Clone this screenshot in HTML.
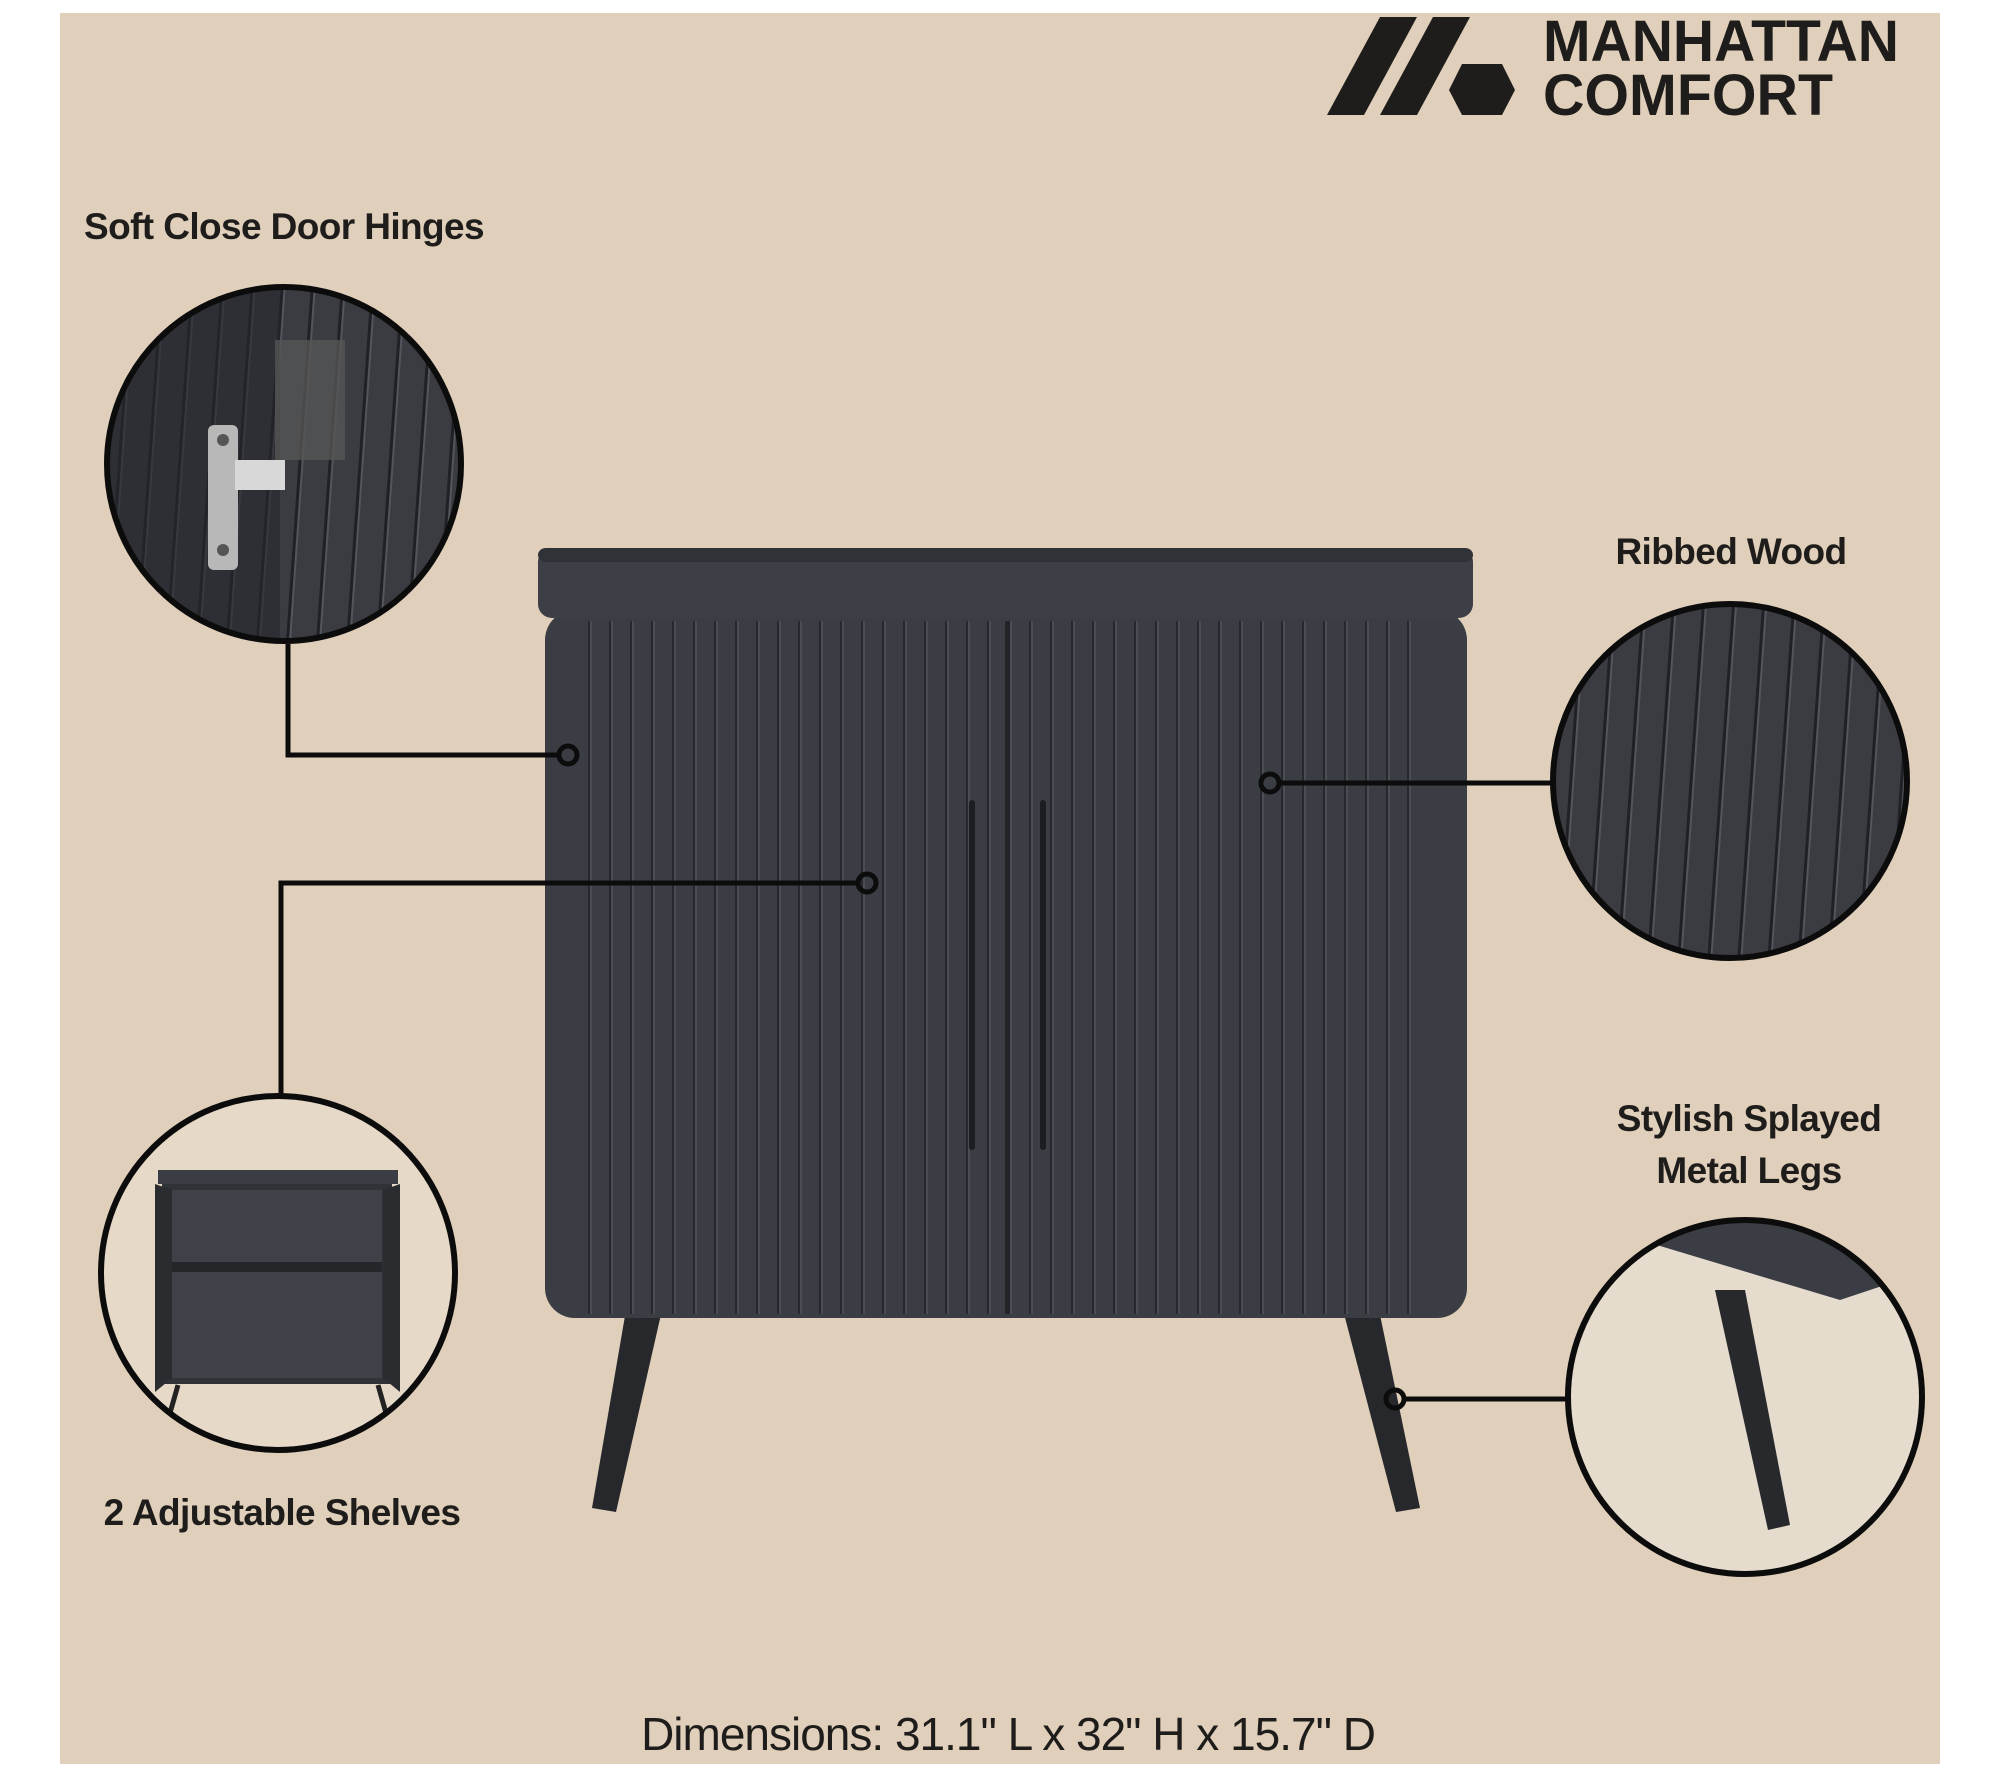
<!DOCTYPE html>
<html><head><meta charset="utf-8"><style>
html,body{margin:0;padding:0;background:#fff}
#p{position:relative;width:2000px;height:1777px;overflow:hidden;background:#fff;font-family:"Liberation Sans",sans-serif}
.t{position:absolute;font-weight:bold;color:#1f1d1b;white-space:nowrap;transform:translateX(-50%);font-size:37px;letter-spacing:-0.6px}
</style></head><body><div id="p">
<div style="position:absolute;left:60px;top:13px;width:1880px;height:1751px;background:#e0cfba"></div>
<svg width="2000" height="1777" style="position:absolute;left:0;top:0">
<defs>
<pattern id="rib" width="21" height="10" patternUnits="userSpaceOnUse">
<rect width="21" height="10" fill="#3a3d43"/><rect x="0" width="2" height="10" fill="#26282c"/><rect x="2" width="2" height="10" fill="#4a4d54"/>
</pattern>
<pattern id="rib2" width="30" height="10" patternUnits="userSpaceOnUse" patternTransform="rotate(4)">
<rect width="30" height="10" fill="#3a3c42"/><rect x="0" width="3" height="10" fill="#1f2125"/><rect x="3" width="2" height="10" fill="#52555c"/>
</pattern>
<clipPath id="c1"><circle cx="284" cy="464" r="177"/></clipPath>
<clipPath id="c2"><circle cx="278" cy="1273" r="177"/></clipPath>
<clipPath id="c3"><circle cx="1730" cy="781" r="177"/></clipPath>
<clipPath id="c4"><circle cx="1745" cy="1397" r="177"/></clipPath>
</defs>
<polygon points="1327,115 1380,17 1417,17 1364,115" fill="#1f1d1b"/>
<polygon points="1380,115 1433,17 1470,17 1417,115" fill="#1f1d1b"/>
<polygon points="1462,64 1502,64 1515,90 1502,115 1462,115 1449,90" fill="#1f1d1b"/>
<text x="1543" y="61" font-size="58" font-family="Liberation Sans" font-weight="bold" fill="#1f1d1b" textLength="356" lengthAdjust="spacingAndGlyphs">MANHATTAN</text>
<text x="1543" y="115" font-size="58" font-family="Liberation Sans" font-weight="bold" fill="#1f1d1b" textLength="290" lengthAdjust="spacingAndGlyphs">COMFORT</text>
<polygon points="626,1310 662,1310 616,1512 592,1508" fill="#26282c"/>
<polygon points="1343,1310 1379,1310 1420,1508 1396,1512" fill="#26282c"/>
<rect x="545" y="610" width="922" height="708" rx="30" fill="#3a3d43"/>
<rect x="538" y="548" width="935" height="70" rx="14" fill="#3c3f45"/>
<rect x="538" y="548" width="935" height="14" rx="8" fill="#2f3237"/>
<rect x="587" y="621" width="418" height="693" fill="url(#rib)"/>
<rect x="1010" y="621" width="415" height="693" fill="url(#rib)"/>
<rect x="1005" y="621" width="5" height="693" fill="#222428"/>
<rect x="969" y="800" width="6" height="350" rx="3" fill="#1c1d20"/>
<rect x="1040" y="800" width="6" height="350" rx="3" fill="#1c1d20"/>
<g clip-path="url(#c1)"><rect x="100" y="280" width="370" height="370" fill="url(#rib2)"/>
<rect x="100" y="280" width="180" height="370" fill="#25272b" opacity="0.6"/>
<rect x="208" y="425" width="30" height="145" rx="6" fill="#b8b8b8"/>
<rect x="235" y="460" width="50" height="30" fill="#d8d8d8"/>
<rect x="275" y="340" width="70" height="120" fill="#555" opacity="0.8"/>
<circle cx="223" cy="440" r="6" fill="#555"/><circle cx="223" cy="550" r="6" fill="#555"/></g>
<circle cx="284" cy="464" r="177" fill="none" stroke="#0c0c0c" stroke-width="6"/>
<g clip-path="url(#c2)"><rect x="95" y="1090" width="370" height="370" fill="#e6d9c8"/>
<rect x="158" y="1170" width="240" height="14" fill="#3a3d43"/>
<rect x="162" y="1184" width="230" height="200" fill="#2f3236"/>
<rect x="172" y="1190" width="210" height="188" fill="#3e4147"/>
<rect x="172" y="1262" width="210" height="10" fill="#24262a"/>
<polygon points="155,1184 172,1190 172,1378 155,1392" fill="#2a2c30"/>
<polygon points="400,1184 383,1190 383,1378 400,1392" fill="#2a2c30"/>
<line x1="178" y1="1385" x2="168" y2="1420" stroke="#222" stroke-width="5"/>
<line x1="378" y1="1385" x2="388" y2="1420" stroke="#222" stroke-width="5"/></g>
<circle cx="278" cy="1273" r="177" fill="none" stroke="#0c0c0c" stroke-width="6"/>
<g clip-path="url(#c3)"><rect x="1540" y="590" width="380" height="380" fill="url(#rib2)"/></g>
<circle cx="1730" cy="781" r="177" fill="none" stroke="#0c0c0c" stroke-width="6"/>
<g clip-path="url(#c4)"><rect x="1560" y="1210" width="380" height="380" fill="#e6dccd"/>
<polygon points="1640,1210 1900,1210 1900,1280 1840,1300 1640,1240" fill="#3a3d43"/>
<polygon points="1715,1290 1745,1290 1790,1525 1768,1530" fill="#27292d"/></g>
<circle cx="1745" cy="1397" r="177" fill="none" stroke="#0c0c0c" stroke-width="6"/>
<g fill="none" stroke="#0c0c0c" stroke-width="5">
<polyline points="288,644 288,755 560,755"/>
<polyline points="281,1097 281,883 859,883"/>
<line x1="1278" y1="783" x2="1553" y2="783"/>
<line x1="1403" y1="1399" x2="1569" y2="1399"/>
<circle cx="568" cy="755" r="9"/><circle cx="867" cy="883" r="9"/>
<circle cx="1270" cy="783" r="9"/><circle cx="1395" cy="1399" r="9"/>
</g>
</svg>
<div class="t" style="left:284px;top:206px">Soft Close Door Hinges</div>
<div class="t" style="left:1731px;top:531px">Ribbed Wood</div>
<div class="t" style="left:1749px;top:1098px">Stylish Splayed</div>
<div class="t" style="left:1749px;top:1150px">Metal Legs</div>
<div class="t" style="left:282px;top:1492px">2 Adjustable Shelves</div>
<div class="t" style="left:1008px;top:1707px;font-weight:normal;font-size:46px;letter-spacing:-1px;color:#1f1d1b">Dimensions: 31.1" L x 32" H x 15.7" D</div>
</div></body></html>
